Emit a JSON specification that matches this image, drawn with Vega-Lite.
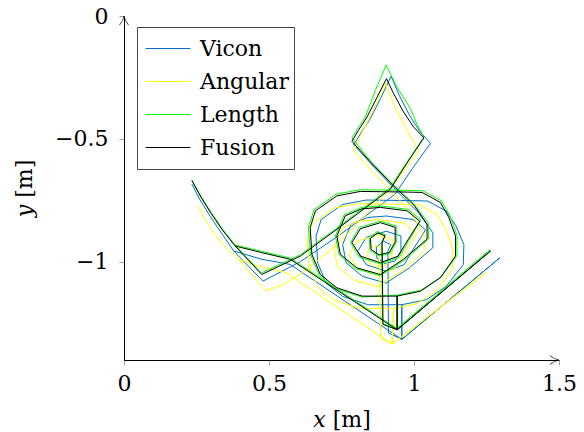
{
  "$schema": "https://vega.github.io/schema/vega-lite/v6.json",
  "width": 435,
  "height": 344,
  "autosize": {"type": "none"},
  "padding": {"left": 124, "top": 16, "right": 25, "bottom": 72},
  "background": "white",
  "config": {"view": {"stroke": null}, "font": "DejaVu Serif"},
  "layer": [
    {
      "data": {"values": [
{"s":"Vicon","i":1,"x":0.234,"y":-0.684},{"s":"Vicon","i":2,"x":0.262,"y":-0.748},{"s":"Vicon","i":3,"x":0.297,"y":-0.815},{"s":"Vicon","i":4,"x":0.337,"y":-0.885},{"s":"Vicon","i":5,"x":0.378,"y":-0.956},
{"s":"Vicon","i":6,"x":0.479,"y":-1.079},{"s":"Vicon","i":7,"x":0.608,"y":-1.0},{"s":"Vicon","i":8,"x":0.745,"y":-0.89},{"s":"Vicon","i":9,"x":0.935,"y":-0.725},{"s":"Vicon","i":10,"x":0.995,"y":-0.62},
{"s":"Vicon","i":11,"x":1.057,"y":-0.518},{"s":"Vicon","i":12,"x":1.02,"y":-0.47},{"s":"Vicon","i":13,"x":0.985,"y":-0.405},{"s":"Vicon","i":14,"x":0.95,"y":-0.325},{"s":"Vicon","i":15,"x":0.921,"y":-0.245},
{"s":"Vicon","i":16,"x":0.885,"y":-0.335},{"s":"Vicon","i":17,"x":0.848,"y":-0.42},{"s":"Vicon","i":18,"x":0.815,"y":-0.48},{"s":"Vicon","i":19,"x":0.792,"y":-0.523},
{"s":"Vicon","i":20,"x":0.862,"y":-0.615},{"s":"Vicon","i":21,"x":0.94,"y":-0.712},{"s":"Vicon","i":22,"x":1.015,"y":-0.8},{"s":"Vicon","i":23,"x":1.065,"y":-0.882},
{"s":"Vicon","i":24,"x":1.065,"y":-0.943},{"s":"Vicon","i":25,"x":0.984,"y":-1.025},{"s":"Vicon","i":26,"x":0.904,"y":-1.087},{"s":"Vicon","i":27,"x":0.823,"y":-1.06},{"s":"Vicon","i":28,"x":0.766,"y":-1.005},{"s":"Vicon","i":29,"x":0.754,"y":-0.93},{"s":"Vicon","i":30,"x":0.783,"y":-0.848},{"s":"Vicon","i":31,"x":0.84,"y":-0.82},{"s":"Vicon","i":32,"x":0.904,"y":-0.814},{"s":"Vicon","i":33,"x":0.996,"y":-0.828},{"s":"Vicon","i":34,"x":1.04,"y":-0.87},
{"s":"Vicon","i":35,"x":0.99,"y":-0.963},{"s":"Vicon","i":36,"x":0.966,"y":-1.012},{"s":"Vicon","i":37,"x":0.904,"y":-1.039},{"s":"Vicon","i":38,"x":0.835,"y":-1.012},{"s":"Vicon","i":39,"x":0.806,"y":-0.957},{"s":"Vicon","i":40,"x":0.835,"y":-0.901},{"s":"Vicon","i":41,"x":0.904,"y":-0.876},{"s":"Vicon","i":42,"x":0.955,"y":-0.895},
{"s":"Vicon","i":43,"x":0.955,"y":-0.955},{"s":"Vicon","i":44,"x":0.935,"y":-0.997},{"s":"Vicon","i":45,"x":0.9,"y":-1.007},{"s":"Vicon","i":46,"x":0.872,"y":-0.985},{"s":"Vicon","i":47,"x":0.87,"y":-0.94},{"s":"Vicon","i":48,"x":0.895,"y":-0.917},{"s":"Vicon","i":49,"x":0.92,"y":-0.93},{"s":"Vicon","i":50,"x":0.91,"y":-0.957},
{"s":"Vicon","i":51,"x":0.912,"y":-1.29},{"s":"Vicon","i":52,"x":0.958,"y":-1.316},{"s":"Vicon","i":53,"x":1.296,"y":-0.984},{"s":"Vicon","i":54,"x":0.958,"y":-1.316},{"s":"Vicon","i":55,"x":0.958,"y":-1.175},
{"s":"Vicon","i":56,"x":1.042,"y":-1.155},{"s":"Vicon","i":57,"x":1.111,"y":-1.1},{"s":"Vicon","i":58,"x":1.17,"y":-1.012},{"s":"Vicon","i":59,"x":1.172,"y":-0.93},{"s":"Vicon","i":60,"x":1.145,"y":-0.855},{"s":"Vicon","i":61,"x":1.111,"y":-0.794},{"s":"Vicon","i":62,"x":1.048,"y":-0.753},{"s":"Vicon","i":63,"x":0.971,"y":-0.751},{"s":"Vicon","i":64,"x":0.835,"y":-0.749},{"s":"Vicon","i":65,"x":0.754,"y":-0.767},{"s":"Vicon","i":66,"x":0.68,"y":-0.828},{"s":"Vicon","i":67,"x":0.662,"y":-0.896},{"s":"Vicon","i":68,"x":0.668,"y":-1.005},{"s":"Vicon","i":69,"x":0.697,"y":-1.087},{"s":"Vicon","i":70,"x":0.754,"y":-1.141},{"s":"Vicon","i":71,"x":0.841,"y":-1.175},{"s":"Vicon","i":72,"x":0.958,"y":-1.175},
{"s":"Vicon","i":73,"x":0.958,"y":-1.316},{"s":"Vicon","i":74,"x":0.573,"y":-1.011},{"s":"Vicon","i":75,"x":0.475,"y":-0.99},{"s":"Vicon","i":76,"x":0.378,"y":-0.956},

{"s":"Angular","i":1,"x":0.254,"y":-0.772},{"s":"Angular","i":2,"x":0.28,"y":-0.83},{"s":"Angular","i":3,"x":0.315,"y":-0.893},{"s":"Angular","i":4,"x":0.355,"y":-0.95},{"s":"Angular","i":5,"x":0.395,"y":-0.99},
{"s":"Angular","i":6,"x":0.487,"y":-1.117},{"s":"Angular","i":7,"x":0.539,"y":-1.099},{"s":"Angular","i":8,"x":0.608,"y":-1.052},{"s":"Angular","i":9,"x":0.735,"y":-0.93},{"s":"Angular","i":10,"x":0.905,"y":-0.722},{"s":"Angular","i":11,"x":0.962,"y":-0.635},
{"s":"Angular","i":12,"x":1.016,"y":-0.548},{"s":"Angular","i":13,"x":0.985,"y":-0.485},{"s":"Angular","i":14,"x":0.955,"y":-0.42},{"s":"Angular","i":15,"x":0.925,"y":-0.345},{"s":"Angular","i":16,"x":0.901,"y":-0.275},
{"s":"Angular","i":17,"x":0.872,"y":-0.35},{"s":"Angular","i":18,"x":0.84,"y":-0.43},{"s":"Angular","i":19,"x":0.812,"y":-0.495},{"s":"Angular","i":20,"x":0.792,"y":-0.548},
{"s":"Angular","i":21,"x":0.85,"y":-0.625},{"s":"Angular","i":22,"x":0.915,"y":-0.705},{"s":"Angular","i":23,"x":0.99,"y":-0.8},{"s":"Angular","i":24,"x":1.035,"y":-0.897},
{"s":"Angular","i":25,"x":1.035,"y":-0.958},{"s":"Angular","i":26,"x":0.954,"y":-1.04},{"s":"Angular","i":27,"x":0.874,"y":-1.102},{"s":"Angular","i":28,"x":0.793,"y":-1.075},{"s":"Angular","i":29,"x":0.736,"y":-1.02},{"s":"Angular","i":30,"x":0.724,"y":-0.945},{"s":"Angular","i":31,"x":0.753,"y":-0.863},{"s":"Angular","i":32,"x":0.81,"y":-0.835},{"s":"Angular","i":33,"x":0.874,"y":-0.829},{"s":"Angular","i":34,"x":0.966,"y":-0.843},{"s":"Angular","i":35,"x":1.01,"y":-0.885},
{"s":"Angular","i":36,"x":0.96,"y":-0.978},{"s":"Angular","i":37,"x":0.936,"y":-1.027},{"s":"Angular","i":38,"x":0.874,"y":-1.054},{"s":"Angular","i":39,"x":0.805,"y":-1.027},{"s":"Angular","i":40,"x":0.776,"y":-0.972},{"s":"Angular","i":41,"x":0.805,"y":-0.916},{"s":"Angular","i":42,"x":0.874,"y":-0.891},{"s":"Angular","i":43,"x":0.925,"y":-0.91},
{"s":"Angular","i":44,"x":0.925,"y":-0.97},{"s":"Angular","i":45,"x":0.905,"y":-1.012},{"s":"Angular","i":46,"x":0.87,"y":-1.022},{"s":"Angular","i":47,"x":0.842,"y":-1.0},{"s":"Angular","i":48,"x":0.84,"y":-0.955},{"s":"Angular","i":49,"x":0.865,"y":-0.932},{"s":"Angular","i":50,"x":0.89,"y":-0.945},{"s":"Angular","i":51,"x":0.88,"y":-0.972},
{"s":"Angular","i":52,"x":0.885,"y":-1.31},{"s":"Angular","i":53,"x":0.924,"y":-1.335},{"s":"Angular","i":54,"x":1.247,"y":-1.045},{"s":"Angular","i":55,"x":0.924,"y":-1.335},{"s":"Angular","i":56,"x":0.93,"y":-1.19},
{"s":"Angular","i":57,"x":1.012,"y":-1.17},{"s":"Angular","i":58,"x":1.081,"y":-1.115},{"s":"Angular","i":59,"x":1.133,"y":-1.027},{"s":"Angular","i":60,"x":1.133,"y":-0.945},{"s":"Angular","i":61,"x":1.11,"y":-0.87},{"s":"Angular","i":62,"x":1.081,"y":-0.809},{"s":"Angular","i":63,"x":1.018,"y":-0.768},{"s":"Angular","i":64,"x":0.941,"y":-0.766},{"s":"Angular","i":65,"x":0.805,"y":-0.764},{"s":"Angular","i":66,"x":0.724,"y":-0.782},{"s":"Angular","i":67,"x":0.65,"y":-0.843},{"s":"Angular","i":68,"x":0.632,"y":-0.911},{"s":"Angular","i":69,"x":0.638,"y":-1.02},{"s":"Angular","i":70,"x":0.667,"y":-1.102},{"s":"Angular","i":71,"x":0.724,"y":-1.156},{"s":"Angular","i":72,"x":0.811,"y":-1.19},{"s":"Angular","i":73,"x":0.93,"y":-1.19},
{"s":"Angular","i":74,"x":0.924,"y":-1.335},{"s":"Angular","i":75,"x":0.56,"y":-1.045},{"s":"Angular","i":76,"x":0.47,"y":-1.02},{"s":"Angular","i":77,"x":0.395,"y":-0.99},

{"s":"Length","i":1,"x":0.234,"y":-0.667},{"s":"Length","i":2,"x":0.265,"y":-0.733},{"s":"Length","i":3,"x":0.3,"y":-0.799},{"s":"Length","i":4,"x":0.34,"y":-0.868},{"s":"Length","i":5,"x":0.383,"y":-0.932},
{"s":"Length","i":6,"x":0.474,"y":-1.046},{"s":"Length","i":7,"x":0.608,"y":-0.972},{"s":"Length","i":8,"x":0.734,"y":-0.863},{"s":"Length","i":9,"x":0.917,"y":-0.7},{"s":"Length","i":10,"x":0.975,"y":-0.596},
{"s":"Length","i":11,"x":1.034,"y":-0.493},{"s":"Length","i":12,"x":1.01,"y":-0.44},{"s":"Length","i":13,"x":0.988,"y":-0.377},{"s":"Length","i":14,"x":0.941,"y":-0.289},{"s":"Length","i":15,"x":0.904,"y":-0.2},
{"s":"Length","i":16,"x":0.867,"y":-0.302},{"s":"Length","i":17,"x":0.832,"y":-0.411},{"s":"Length","i":18,"x":0.805,"y":-0.46},{"s":"Length","i":19,"x":0.786,"y":-0.496},
{"s":"Length","i":20,"x":0.85,"y":-0.59},{"s":"Length","i":21,"x":0.926,"y":-0.684},{"s":"Length","i":22,"x":1.0,"y":-0.764},{"s":"Length","i":23,"x":1.049,"y":-0.842},
{"s":"Length","i":24,"x":1.05,"y":-0.908},{"s":"Length","i":25,"x":0.966,"y":-0.994},{"s":"Length","i":26,"x":0.884,"y":-1.057},{"s":"Length","i":27,"x":0.8,"y":-1.029},{"s":"Length","i":28,"x":0.742,"y":-0.972},{"s":"Length","i":29,"x":0.729,"y":-0.895},{"s":"Length","i":30,"x":0.759,"y":-0.809},{"s":"Length","i":31,"x":0.82,"y":-0.779},{"s":"Length","i":32,"x":0.884,"y":-0.773},{"s":"Length","i":33,"x":0.979,"y":-0.787},{"s":"Length","i":34,"x":1.024,"y":-0.83},
{"s":"Length","i":35,"x":0.975,"y":-0.928},{"s":"Length","i":36,"x":0.95,"y":-0.981},{"s":"Length","i":37,"x":0.884,"y":-1.009},{"s":"Length","i":38,"x":0.811,"y":-0.981},{"s":"Length","i":39,"x":0.781,"y":-0.922},{"s":"Length","i":40,"x":0.811,"y":-0.861},{"s":"Length","i":41,"x":0.884,"y":-0.835},{"s":"Length","i":42,"x":0.939,"y":-0.855},
{"s":"Length","i":43,"x":0.939,"y":-0.92},{"s":"Length","i":44,"x":0.918,"y":-0.967},{"s":"Length","i":45,"x":0.88,"y":-0.977},{"s":"Length","i":46,"x":0.848,"y":-0.954},{"s":"Length","i":47,"x":0.846,"y":-0.903},{"s":"Length","i":48,"x":0.873,"y":-0.877},{"s":"Length","i":49,"x":0.902,"y":-0.891},{"s":"Length","i":50,"x":0.889,"y":-0.918},
{"s":"Length","i":51,"x":0.891,"y":-1.252},{"s":"Length","i":52,"x":0.941,"y":-1.272},{"s":"Length","i":53,"x":1.262,"y":-0.952},{"s":"Length","i":54,"x":0.941,"y":-1.272},{"s":"Length","i":55,"x":0.941,"y":-1.136},
{"s":"Length","i":56,"x":1.024,"y":-1.116},{"s":"Length","i":57,"x":1.095,"y":-1.061},{"s":"Length","i":58,"x":1.148,"y":-0.975},{"s":"Length","i":59,"x":1.148,"y":-0.893},{"s":"Length","i":60,"x":1.125,"y":-0.815},{"s":"Length","i":61,"x":1.095,"y":-0.753},{"s":"Length","i":62,"x":1.03,"y":-0.711},{"s":"Length","i":63,"x":0.951,"y":-0.709},{"s":"Length","i":64,"x":0.815,"y":-0.707},{"s":"Length","i":65,"x":0.731,"y":-0.725},{"s":"Length","i":66,"x":0.655,"y":-0.789},{"s":"Length","i":67,"x":0.636,"y":-0.859},{"s":"Length","i":68,"x":0.643,"y":-0.97},{"s":"Length","i":69,"x":0.673,"y":-1.056},{"s":"Length","i":70,"x":0.731,"y":-1.11},{"s":"Length","i":71,"x":0.821,"y":-1.144},{"s":"Length","i":72,"x":0.941,"y":-1.136},
{"s":"Length","i":73,"x":0.941,"y":-1.272},{"s":"Length","i":74,"x":0.573,"y":-0.985},{"s":"Length","i":75,"x":0.475,"y":-0.958},{"s":"Length","i":76,"x":0.383,"y":-0.932},

{"s":"Fusion","i":1,"x":0.234,"y":-0.67},{"s":"Fusion","i":2,"x":0.265,"y":-0.737},{"s":"Fusion","i":3,"x":0.3,"y":-0.803},{"s":"Fusion","i":4,"x":0.34,"y":-0.872},{"s":"Fusion","i":5,"x":0.383,"y":-0.936},
{"s":"Fusion","i":6,"x":0.475,"y":-1.052},{"s":"Fusion","i":7,"x":0.608,"y":-0.977},{"s":"Fusion","i":8,"x":0.734,"y":-0.868},{"s":"Fusion","i":9,"x":0.919,"y":-0.704},{"s":"Fusion","i":10,"x":0.975,"y":-0.6},
{"s":"Fusion","i":11,"x":1.034,"y":-0.496},{"s":"Fusion","i":12,"x":0.999,"y":-0.452},{"s":"Fusion","i":13,"x":0.964,"y":-0.391},{"s":"Fusion","i":14,"x":0.93,"y":-0.316},{"s":"Fusion","i":15,"x":0.905,"y":-0.255},
{"s":"Fusion","i":16,"x":0.873,"y":-0.33},{"s":"Fusion","i":17,"x":0.838,"y":-0.411},{"s":"Fusion","i":18,"x":0.808,"y":-0.466},{"s":"Fusion","i":19,"x":0.786,"y":-0.51},{"s":"Fusion","i":20,"x":0.852,"y":-0.597},
{"s":"Fusion","i":21,"x":0.928,"y":-0.69},{"s":"Fusion","i":22,"x":1.0,"y":-0.77},{"s":"Fusion","i":23,"x":1.045,"y":-0.847},{"s":"Fusion","i":24,"x":1.045,"y":-0.908},{"s":"Fusion","i":25,"x":0.964,"y":-0.99},
{"s":"Fusion","i":26,"x":0.884,"y":-1.052},{"s":"Fusion","i":27,"x":0.803,"y":-1.025},{"s":"Fusion","i":28,"x":0.746,"y":-0.97},{"s":"Fusion","i":29,"x":0.734,"y":-0.895},{"s":"Fusion","i":30,"x":0.763,"y":-0.813},
{"s":"Fusion","i":31,"x":0.82,"y":-0.785},{"s":"Fusion","i":32,"x":0.884,"y":-0.779},{"s":"Fusion","i":33,"x":0.976,"y":-0.793},{"s":"Fusion","i":34,"x":1.02,"y":-0.835},{"s":"Fusion","i":35,"x":0.97,"y":-0.928},
{"s":"Fusion","i":36,"x":0.946,"y":-0.977},{"s":"Fusion","i":37,"x":0.884,"y":-1.004},{"s":"Fusion","i":38,"x":0.815,"y":-0.977},{"s":"Fusion","i":39,"x":0.786,"y":-0.922},{"s":"Fusion","i":40,"x":0.815,"y":-0.866},
{"s":"Fusion","i":41,"x":0.884,"y":-0.841},{"s":"Fusion","i":42,"x":0.935,"y":-0.86},{"s":"Fusion","i":43,"x":0.935,"y":-0.92},{"s":"Fusion","i":44,"x":0.915,"y":-0.962},{"s":"Fusion","i":45,"x":0.88,"y":-0.972},
{"s":"Fusion","i":46,"x":0.852,"y":-0.95},{"s":"Fusion","i":47,"x":0.85,"y":-0.905},{"s":"Fusion","i":48,"x":0.875,"y":-0.882},{"s":"Fusion","i":49,"x":0.9,"y":-0.895},{"s":"Fusion","i":50,"x":0.89,"y":-0.922},
{"s":"Fusion","i":51,"x":0.893,"y":-1.255},{"s":"Fusion","i":52,"x":0.942,"y":-1.277},{"s":"Fusion","i":53,"x":1.264,"y":-0.956},{"s":"Fusion","i":54,"x":0.942,"y":-1.277},{"s":"Fusion","i":55,"x":0.942,"y":-1.14},
{"s":"Fusion","i":56,"x":1.022,"y":-1.12},{"s":"Fusion","i":57,"x":1.091,"y":-1.065},{"s":"Fusion","i":58,"x":1.143,"y":-0.977},{"s":"Fusion","i":59,"x":1.143,"y":-0.895},{"s":"Fusion","i":60,"x":1.12,"y":-0.82},
{"s":"Fusion","i":61,"x":1.091,"y":-0.759},{"s":"Fusion","i":62,"x":1.028,"y":-0.718},{"s":"Fusion","i":63,"x":0.951,"y":-0.716},{"s":"Fusion","i":64,"x":0.815,"y":-0.714},{"s":"Fusion","i":65,"x":0.734,"y":-0.732},
{"s":"Fusion","i":66,"x":0.66,"y":-0.793},{"s":"Fusion","i":67,"x":0.642,"y":-0.861},{"s":"Fusion","i":68,"x":0.648,"y":-0.97},{"s":"Fusion","i":69,"x":0.677,"y":-1.052},{"s":"Fusion","i":70,"x":0.734,"y":-1.106},
{"s":"Fusion","i":71,"x":0.821,"y":-1.14},{"s":"Fusion","i":72,"x":0.942,"y":-1.14},{"s":"Fusion","i":73,"x":0.942,"y":-1.277},{"s":"Fusion","i":74,"x":0.573,"y":-0.99},{"s":"Fusion","i":75,"x":0.475,"y":-0.963},
{"s":"Fusion","i":76,"x":0.383,"y":-0.936}
      ]},
      "mark": {"type": "line", "strokeJoin": "miter", "strokeMiterLimit": 4},
      "encoding": {
        "x": {
          "field": "x", "type": "quantitative",
          "scale": {"domain": [0, 1.5], "nice": false, "zero": false},
          "axis": {
            "values": [0, 0.5, 1, 1.5], "format": "~g", "grid": false,
            "title": "𝑥 [m]",
            "domainColor": "#000", "domainWidth": 1,
            "tickColor": "#a0a0a0", "tickSize": 5, "tickWidth": 1,
            "labelFont": "DejaVu Serif", "labelFontSize": 22, "labelColor": "#000", "labelPadding": 8,
            "labelFlush": false, "labelOverlap": false,
            "titleFont": "DejaVu Serif", "titleFontSize": 22, "titleFontWeight": "normal", "titleColor": "#000",
            "titleBaseline": "alphabetic", "titleY": 66
          }
        },
        "y": {
          "field": "y", "type": "quantitative",
          "scale": {"domain": [-1.4, 0], "nice": false, "zero": false},
          "axis": {
            "values": [-1, -0.5, 0], "format": "~g", "grid": false,
            "title": "𝑦 [m]",
            "domainColor": "#000", "domainWidth": 1,
            "tickColor": "#a0a0a0", "tickSize": 5, "tickWidth": 1,
            "labelFont": "DejaVu Serif", "labelFontSize": 22, "labelColor": "#000", "labelPadding": 11,
            "labelFlush": false, "labelOverlap": false,
            "titleFont": "DejaVu Serif", "titleFontSize": 22, "titleFontWeight": "normal", "titleColor": "#000",
            "titleBaseline": "alphabetic", "titleAlign": "center", "titleAngle": -90, "titleX": -93, "titleY": 172
          }
        },
        "color": {
          "field": "s", "type": "nominal",
          "scale": {"domain": ["Vicon", "Angular", "Length", "Fusion"], "range": ["#0072bd", "#ffff00", "#00ff00", "#000000"]},
          "legend": {
            "orient": "none", "legendX": 13, "legendY": 11, "title": null,
            "symbolType": "stroke", "symbolSize": 2025, "symbolStrokeWidth": 2, "symbolOffset": 3, "symbolOpacity": 1,
            "clipHeight": 33, "rowPadding": 0,
            "labelFont": "DejaVu Serif", "labelFontSize": 22, "labelColor": "#000", "labelOffset": 9,
            "strokeColor": "#444", "fillColor": "white", "padding": 5
          }
        },
        "strokeWidth": {
          "field": "s", "type": "nominal",
          "scale": {"domain": ["Vicon", "Angular", "Length", "Fusion"], "range": [1, 1, 1.3, 1.7]},
          "legend": null
        },
        "order": {"field": "i", "type": "quantitative"}
      }
    },
    {
      "data": {"values": [{"x": 1.5, "y": -1.4}]},
      "mark": {"type": "point", "shape": "M-2,-1 Q-1,-0.15 0,0 Q-1,0.15 -2,1", "filled": false, "stroke": "#000", "strokeWidth": 1, "size": 81, "clip": false},
      "encoding": {"x": {"field": "x", "type": "quantitative"}, "y": {"field": "y", "type": "quantitative"}}
    },
    {
      "data": {"values": [{"x": 0, "y": 0}]},
      "mark": {"type": "point", "shape": "M-1,2 Q-0.15,1 0,0 Q0.15,1 1,2", "filled": false, "stroke": "#000", "strokeWidth": 1, "size": 81, "clip": false},
      "encoding": {"x": {"field": "x", "type": "quantitative"}, "y": {"field": "y", "type": "quantitative"}}
    }
  ]
}
